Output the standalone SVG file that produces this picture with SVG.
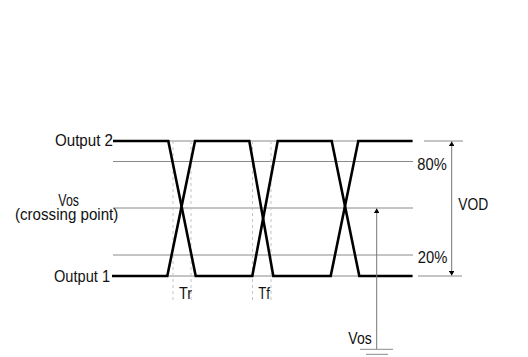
<svg xmlns="http://www.w3.org/2000/svg" width="528" height="357" viewBox="0 0 528 357">
<style>
text{font-family:"Liberation Sans",Arial,sans-serif;font-size:17px;fill:#111}
.thin{stroke:#8a8a8a;stroke-width:1;fill:none}
.dash{stroke:#c4c4c4;stroke-width:1;stroke-dasharray:3,3;fill:none}
.sig{stroke:#000;stroke-width:2.6;fill:none;stroke-linejoin:miter}
.arr{stroke:#777;stroke-width:1;fill:none}
</style>
<defs>
<marker id="ah" viewBox="0 0 8 10" refX="8" refY="5" markerWidth="4.5" markerHeight="5.5" orient="auto" markerUnits="userSpaceOnUse">
<path d="M0,0 L8,5 L0,10 Z" fill="#000"/>
</marker>
</defs>
<rect width="528" height="357" fill="#fff"/>
<g id="grid">
<line class="thin" x1="113" y1="141" x2="413" y2="141"/>
<line class="thin" x1="113" y1="161.5" x2="413" y2="161.5"/>
<line class="thin" x1="113" y1="208" x2="413" y2="208"/>
<line class="thin" x1="113" y1="255" x2="413" y2="255"/>
<line class="thin" x1="113" y1="276" x2="413" y2="276"/>
<line class="dash" x1="173" y1="141" x2="173" y2="302"/>
<line class="dash" x1="191" y1="141" x2="191" y2="302"/>
<line class="dash" x1="252.5" y1="141" x2="252.5" y2="302"/>
<line class="dash" x1="271" y1="141" x2="271" y2="302"/>
</g>
<g id="output2">
<polyline class="sig" points="113,141 168.3,141 195.7,276 252.3,276 277.7,141 331.7,141 359.3,276 412.5,276"/>
<text x="55" y="146.3" textLength="58" lengthAdjust="spacingAndGlyphs">Output 2</text>
</g>
<g id="output1">
<polyline class="sig" points="112,276 167.3,276 195,141 249.3,141 273.3,276 330.7,276 358.3,141 412.5,141"/>
<text x="54" y="281.8" textLength="56" lengthAdjust="spacingAndGlyphs">Output 1</text>
</g>
<g id="vos-label">
<text x="58.3" y="206" textLength="20.7" lengthAdjust="spacingAndGlyphs">Vos</text>
<text x="15" y="219.5" textLength="103.3" lengthAdjust="spacingAndGlyphs">(crossing point)</text>
</g>
<g id="timing-labels">
<text x="179" y="298.5" textLength="13" lengthAdjust="spacingAndGlyphs">Tr</text>
<text x="258.3" y="298.5" textLength="11.7" lengthAdjust="spacingAndGlyphs">Tf</text>
<text x="417.3" y="169.6" textLength="29.4" lengthAdjust="spacingAndGlyphs">80%</text>
<text x="417.7" y="263.2" textLength="29.6" lengthAdjust="spacingAndGlyphs">20%</text>
</g>
<g id="connectors">
<line class="thin" x1="424" y1="141" x2="463" y2="141"/>
<line class="thin" x1="418" y1="276" x2="462" y2="276"/>
<line class="arr" x1="451.7" y1="208" x2="451.7" y2="141.5" marker-end="url(#ah)"/>
<line class="arr" x1="451.7" y1="208" x2="451.7" y2="275.5" marker-end="url(#ah)"/>
<line class="arr" x1="376.7" y1="349" x2="376.7" y2="208.5" marker-end="url(#ah)"/>
</g>
<g id="vod">
<text x="458.3" y="209.5" textLength="30" lengthAdjust="spacingAndGlyphs">VOD</text>
</g>
<g id="vos-ground">
<line class="thin" x1="360" y1="349.3" x2="393" y2="349.3"/>
<line class="thin" x1="366" y1="354.3" x2="388" y2="354.3"/>
<text x="348.3" y="343.5" textLength="23.4" lengthAdjust="spacingAndGlyphs">Vos</text>
</g>
</svg>
